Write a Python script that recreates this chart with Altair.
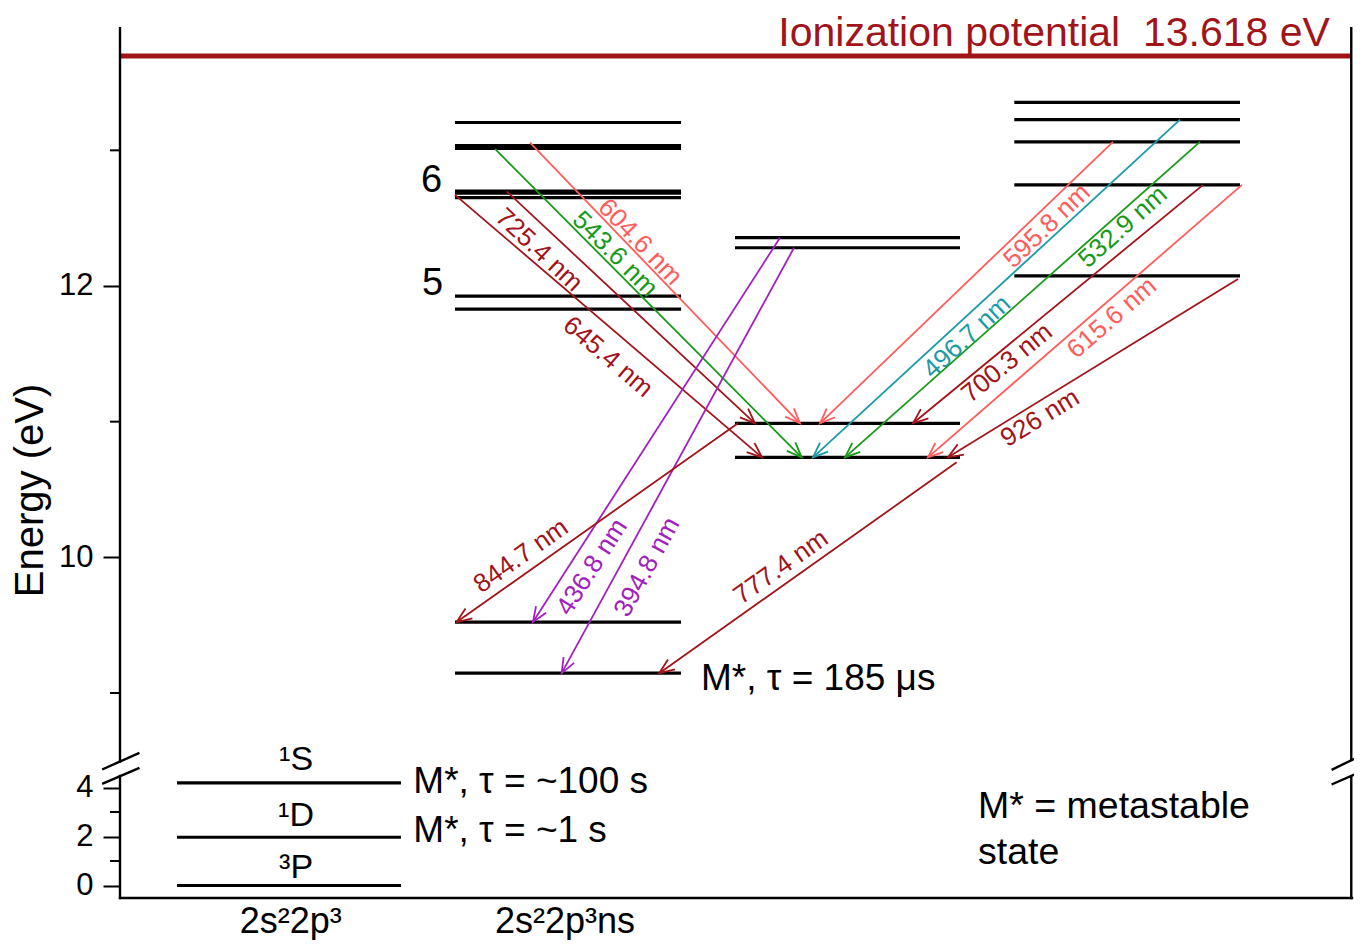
import math
import numpy as np
import pandas as pd
import altair as alt

FONT = "Liberation Sans"
W, H = 1232, 868

# ---------------- data: energies in eV, x in diagram units (0-100) ----------------
col1_x = [4.63, 22.81]
col1_E = [0.0, 1.97, 4.19]
col2_x = [27.19, 45.54]
col2_E = [13.205, 13.035, 13.015, 12.700, 12.685, 12.652, 11.926, 11.830, 9.523, 9.146]
col3_x = [49.92, 68.18]
col3_E = [12.356, 12.282, 10.988, 10.737]
col4_x = [72.59, 90.91]
col4_E = [13.354, 13.226, 13.062, 12.745, 12.074]

ion_E_drawn = 13.696
ion_label = "Ionization potential\u00a0\u00a013.618 eV"

arrow_label = ["604.6 nm", "543.6 nm", "725.4 nm", "645.4 nm", "595.8 nm", "496.7 nm",
               "532.9 nm", "700.3 nm", "615.6 nm", "926 nm", "436.8 nm", "394.8 nm",
               "844.7 nm", "777.4 nm"]
arrow_color = ["pink", "green", "darkred", "darkred", "pink", "teal",
               "green", "darkred", "pink", "darkred", "purple", "purple",
               "darkred", "darkred"]
arrow_x0 = [33.28, 30.44, 31.39, 27.19, 80.60, 86.04, 87.66, 87.91, 91.07, 90.75, 53.57, 54.71, 50.16, 67.91]
arrow_E0 = [13.056, 13.010, 12.697, 12.672, 13.062, 13.226, 13.062, 12.745, 12.745, 12.052, 12.356, 12.282, 10.988, 10.700]
arrow_x1 = [55.19, 55.33, 51.54, 52.11, 56.82, 56.25, 58.85, 64.37, 65.58, 67.21, 33.52, 35.85, 27.33, 43.77]
arrow_E1 = [10.988, 10.737, 10.988, 10.737, 10.988, 10.737, 10.737, 10.988, 10.737, 10.737, 9.523, 9.146, 9.523, 9.146]
label_x = [42.21, 40.18, 34.01, 39.61, 75.24, 68.75, 81.41, 72.00, 80.52, 74.68, 38.31, 42.78, 32.55, 53.65]
label_E = [12.325, 12.236, 12.265, 11.477, 12.442, 11.624, 12.435, 11.432, 11.764, 11.027, 9.928, 9.928, 10.010, 9.928]

color_names = ["darkred", "pink", "green", "teal", "purple"]
color_hex = ["#a0141a", "#ff5c5c", "#17991a", "#1b9aa8", "#a020c0"]

major_ticks = [0, 2, 4, 10, 12]
minor_ticks = [1, 3, 9, 11, 13]

# broken axis: piecewise scale
Y_DOMAIN = [-0.51, 4.796, 8.447, 13.887]
Y_RANGE = [H, 738, 738, 0]


def ypx(e):
    return float(np.interp(e, Y_DOMAIN, Y_RANGE))


def xpx(u):
    return u * W / 100.0


# ---------------- tables ----------------
lv_rows = []
for (x0, x1), Es in [(col1_x, col1_E), (col2_x, col2_E), (col3_x, col3_E), (col4_x, col4_E)]:
    for e in Es:
        lv_rows.append({"x0": x0, "x1": x1, "E": e})
levels = pd.DataFrame(lv_rows)

arr = pd.DataFrame({"lab": arrow_label, "c": arrow_color, "x0": arrow_x0, "E0": arrow_E0,
                    "x1": arrow_x1, "E1": arrow_E1, "lx": label_x, "lE": label_E})
head_ang, text_ang = [], []
for r in arr.itertuples():
    dx = xpx(r.x1) - xpx(r.x0)
    dy = ypx(r.E1) - ypx(r.E0)
    head_ang.append(math.degrees(math.atan2(dy, dx)) % 360)
    if dx < 0:
        text_ang.append(math.degrees(math.atan2(-dy, -dx)) % 360)
    else:
        text_ang.append(math.degrees(math.atan2(dy, dx)) % 360)
arr["hang"] = head_ang
arr["tang"] = text_ang

frame = pd.DataFrame({
    "x0": [0, 0, 99.94, 99.94, 0, -1.36, -1.36, 98.43, 98.43],
    "E0": [13.90, 4.469, 13.90, 4.449, -0.51, 4.755, 4.171, 4.743, 4.143],
    "x1": [0, 0, 99.94, 99.94, 100, 1.49, 1.49, 100.1, 100.1],
    "E1": [8.495, -0.51, 8.506, -0.51, -0.51, 8.555, 4.784, 8.511, 4.510],
})
minor = pd.DataFrame({"E": minor_ticks, "x0": [-0.81] * len(minor_ticks), "x1": [0] * len(minor_ticks)})
ion = pd.DataFrame({"x0": [0], "x1": [100], "E": [ion_E_drawn], "t": [ion_label], "tx": [98.21]})

notes_left = pd.DataFrame({
    "t": ["M*, τ = 185 μs", "M*, τ = ~100 s", "M*, τ = ~1 s"],
    "x": [47.16, 23.81, 23.81],
    "E": [9.022, 3.763, 1.788],
})
notes_meta = pd.DataFrame({
    "t": ["M* = metastable", "state"],
    "x": [69.64, 69.64],
    "E": [2.743, 0.865],
})
terms = pd.DataFrame({"t": ["¹S", "¹D", "³P"], "x": [14.29, 14.29, 14.29], "E": [4.714, 2.429, 0.318]})
shells = pd.DataFrame({"t": ["6", "5"], "x": [26.14, 26.22], "E": [12.693, 11.934]})
configs = pd.DataFrame({"t": ["2s²2p³", "2s²2p³ns"], "x": [13.86, 36.12], "E": [-0.51, -0.51]})

# ---------------- encodings ----------------
yscale = alt.Scale(domain=Y_DOMAIN, range=Y_RANGE, nice=False, zero=False)
xscale = alt.Scale(domain=[0, 100], nice=False, zero=False)
yaxis = alt.Axis(values=major_ticks, title="Energy (eV)", domain=False, grid=False,
                 tickSize=17, tickWidth=2, tickColor="black",
                 labelFontSize=31, labelColor="black", labelFont=FONT, labelPadding=10,
                 labelFlush=False, labelOverlap=False,
                 titleFontSize=40, titleFont=FONT, titleFontWeight="normal", titleColor="black",
                 titleX=-90, titleY=460, titleAngle=270, titleAlign="center", titleBaseline="middle")


def Y(f):
    return alt.Y(f"{f}:Q", scale=yscale, axis=yaxis)


def X(f):
    return alt.X(f"{f}:Q", scale=xscale, axis=None)


colr = alt.Color("c:N", scale=alt.Scale(domain=color_names, range=color_hex), legend=None)

lay_levels = alt.Chart(levels).mark_rule(color="black", strokeWidth=3.2).encode(
    x=X("x0"), x2="x1", y=Y("E"))
lay_ion = alt.Chart(ion).mark_rule(color="#a0141a", strokeWidth=5).encode(
    x=X("x0"), x2="x1", y=Y("E"))
lay_ion_t = alt.Chart(ion).mark_text(font=FONT, fontSize=41, color="#a0141a", align="right",
                                     baseline="alphabetic", dy=-10).encode(
    x=X("tx"), y=Y("E"), text="t:N")
lay_frame = alt.Chart(frame).mark_rule(color="black", strokeWidth=2.4, strokeCap="square").encode(
    x=X("x0"), x2="x1", y=Y("E0"), y2="E1")
lay_minor = alt.Chart(minor).mark_rule(color="black", strokeWidth=2).encode(
    x=X("x0"), x2="x1", y=Y("E"))
lay_arrows = alt.Chart(arr).mark_rule(strokeWidth=1.8).encode(
    x=X("x0"), x2="x1", y=Y("E0"), y2="E1", color=colr)
lay_heads = alt.Chart(arr).mark_point(shape="M-1,-0.4L0,0L-1,0.4", filled=False, size=900,
                                      strokeWidth=1.8, opacity=1).encode(
    x=X("x1"), y=Y("E1"), angle=alt.Angle("hang:Q", scale=None), color=colr)
lay_labels = alt.Chart(arr).mark_text(font=FONT, fontSize=26, align="center", baseline="middle").encode(
    x=X("lx"), y=Y("lE"), text="lab:N", angle=alt.Angle("tang:Q", scale=None), color=colr)
lay_notes = alt.Chart(notes_left).mark_text(font=FONT, fontSize=37, color="black", align="left",
                                            baseline="alphabetic").encode(
    x=X("x"), y=Y("E"), text="t:N")
lay_meta = alt.Chart(notes_meta).mark_text(font=FONT, fontSize=37.5, color="black", align="left",
                                           baseline="alphabetic").encode(
    x=X("x"), y=Y("E"), text="t:N")
lay_terms = alt.Chart(terms).mark_text(font=FONT, fontSize=34, color="black", align="center",
                                       baseline="alphabetic").encode(
    x=X("x"), y=Y("E"), text="t:N")
lay_shells = alt.Chart(shells).mark_text(font=FONT, fontSize=38, color="black", align="right",
                                         baseline="alphabetic").encode(
    x=X("x"), y=Y("E"), text="t:N")
lay_cfg = alt.Chart(configs).mark_text(font=FONT, fontSize=36, color="black", align="center",
                                       baseline="alphabetic", dy=35).encode(
    x=X("x"), y=Y("E"), text="t:N")

chart = alt.layer(
    lay_levels, lay_ion, lay_ion_t, lay_frame, lay_minor, lay_arrows, lay_heads, lay_labels,
    lay_notes, lay_meta, lay_terms, lay_shells, lay_cfg
).properties(
    width=W, height=H,
    padding={"left": 112, "top": 22, "right": 2, "bottom": 42},
    autosize=alt.AutoSizeParams(type="none"),
).configure_view(stroke=None)

chart.save("out.html", embed_options={"renderer": "svg", "actions": False})
